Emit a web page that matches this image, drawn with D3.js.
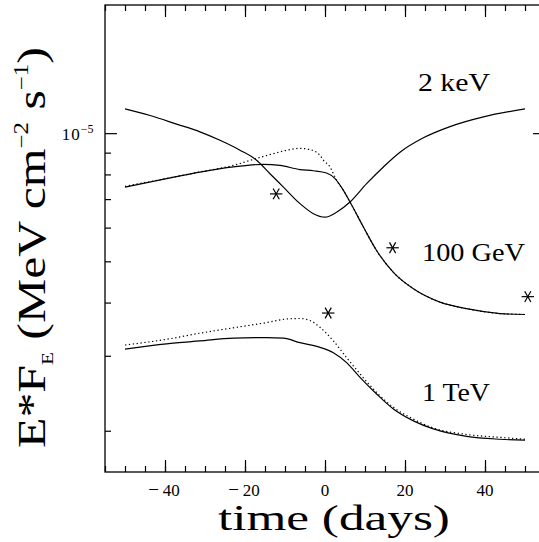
<!DOCTYPE html>
<html>
<head>
<meta charset="utf-8">
<script src="https://cdn.jsdelivr.net/npm/d3@7/dist/d3.min.js"></script>
<style>
  body { margin: 0; background: #fff; }
  svg { display: block; }
  text { font-family: "Liberation Serif", "Times New Roman", serif; font-weight: normal; fill: #000; }
</style>
</head>
<body>
<div id="chart"></div>
<script>
// light curves, time in days, E*F_E in MeV cm^-2 s^-1
var keVDays = [-50, -43.75, -37.1, -31.25, -26.25, -21.25, -17.1, -13.75, -10.4, -6.25, -2.9, 0,
               2.9, 6.25, 10.4, 14.6, 18.75, 24.6, 31.25, 39.6, 50];
var keVFlux = [11.4e-6, 11.0e-6, 10.5e-6, 10.07e-6, 9.62e-6, 9.12e-6, 8.64e-6, 8.03e-6, 7.47e-6, 6.83e-6, 6.47e-6, 6.35e-6,
               6.52e-6, 6.89e-6, 7.61e-6, 8.33e-6, 9.02e-6, 9.75e-6, 10.36e-6, 10.92e-6, 11.4e-6];

var gevDays = [-50, -39.6, -31.25, -22.9, -15.4, -11.25, -6.25, -2.9, 0.4, 2.5, 4.6, 6.7, 9.6, 12.9, 17.1, 22.1,
               28.75, 35.4, 43.75, 50];
var gevFlux = [7.47e-6, 7.82e-6, 8.10e-6, 8.33e-6, 8.45e-6, 8.40e-6, 8.21e-6, 8.16e-6, 8.06e-6, 7.82e-6,
               7.34e-6, 6.77e-6, 6.02e-6, 5.30e-6, 4.71e-6, 4.31e-6, 4.01e-6, 3.87e-6, 3.77e-6, 3.75e-6];

var gevDotDays = [-50, -39.6, -31.25, -22.9, -17.9, -12.9, -9.6, -6.25, -3.75, -1.25, -0.4, 1.25, 2.1, 2.9, 4.6,
                  6.7, 9.6, 12.9, 17.1, 22.1, 28.75, 35.4, 43.75, 50];
var gevDotFlux = [7.5e-6, 7.83e-6, 8.11e-6, 8.40e-6, 8.68e-6, 8.95e-6, 9.12e-6, 9.21e-6, 9.15e-6, 8.87e-6, 8.64e-6,
                  8.33e-6, 8.03e-6, 7.75e-6, 7.34e-6, 6.77e-6, 6.02e-6, 5.30e-6, 4.71e-6, 4.31e-6, 4.01e-6,
                  3.87e-6, 3.77e-6, 3.75e-6];

var tevDays = [-50, -39.6, -31.25, -22.9, -14.6, -10.4, -6.25, -1.25, 2.1, 5.4, 8.75, 12.9, 17.1, 22.1, 27.1,
               35.4, 43.75, 50];
var tevFlux = [3.11e-6, 3.20e-6, 3.25e-6, 3.30e-6, 3.31e-6, 3.30e-6, 3.22e-6, 3.14e-6, 3.05e-6, 2.89e-6,
               2.67e-6, 2.44e-6, 2.25e-6, 2.11e-6, 2.02e-6, 1.94e-6, 1.91e-6, 1.90e-6];

var tevDotDays = [-50, -39.6, -31.25, -22.9, -14.6, -9.6, -6.25, -3.75, -1.25, 2.1, 5.4, 8.75, 12.9, 17.1, 22.1,
                  27.1, 35.4, 43.75, 50];
var tevDotFlux = [3.18e-6, 3.28e-6, 3.39e-6, 3.49e-6, 3.59e-6, 3.66e-6, 3.67e-6, 3.63e-6, 3.50e-6, 3.25e-6,
                  2.97e-6, 2.72e-6, 2.46e-6, 2.27e-6, 2.13e-6, 2.03e-6, 1.96e-6, 1.93e-6, 1.91e-6];

// observed points (asterisks)
var obsDays = [-12.2, 16.9, 50.7, 0.8];
var obsFlux = [7.2e-6, 5.38e-6, 4.13e-6, 3.78e-6];

var bandNames = ["2 keV", "100 GeV", "1 TeV"];
var majorDays = [-40, -20, 0, 20, 40];
var minorDays = d3.range(-55, 56, 5);
var minorFlux = [2e-6, 3e-6, 4e-6, 5e-6, 6e-6, 7e-6, 8e-6, 9e-6];

var W = 539, H = 542;
var plotL = 105, plotR = 545, plotT = 5, plotB = 472;

var svg = d3.select("#chart").append("svg")
    .attr("width", W)
    .attr("height", H);

var x = d3.scaleLinear().domain([-55, 55]).range([plotL, plotR]);
var y = d3.scaleLog().domain([1.6e-6, 2e-5]).range([plotB, plotT]);

// ticks, all pointing inwards
function ticks(axis, tx, ty, vals, len) {
    var g = svg.append("g")
        .attr("transform", "translate(" + tx + "," + ty + ")")
        .call(axis.tickValues(vals).tickSize(-len).tickSizeOuter(0).tickFormat(""));
    g.select(".domain").remove();
    g.selectAll("line").attr("stroke", "#000").attr("stroke-width", 1.2);
    return g;
}
ticks(d3.axisBottom(x), 0, plotB, minorDays, 6);
ticks(d3.axisBottom(x), 0, plotB, majorDays, 12);
ticks(d3.axisTop(x), 0, plotT, minorDays, 6);
ticks(d3.axisTop(x), 0, plotT, majorDays, 12);
ticks(d3.axisLeft(y), plotL, 0, minorFlux, 6);
ticks(d3.axisLeft(y), plotL, 0, [1e-5], 12);
ticks(d3.axisRight(y), plotR, 0, minorFlux, 6);
ticks(d3.axisRight(y), plotR, 0, [1e-5], 12);

svg.append("rect")
    .attr("x", plotL).attr("y", plotT)
    .attr("width", plotR - plotL).attr("height", plotB - plotT)
    .attr("fill", "none").attr("stroke", "#000").attr("stroke-width", 1.3);

// tick labels
var xt = svg.append("g").selectAll("text")
    .data(majorDays)
    .enter().append("text")
    .attr("x", d => x(d) + (d < 0 ? -1 : 0))
    .attr("y", 496)
    .attr("text-anchor", "middle")
    .style("font-size", "17px");
xt.filter(d => d < 0).append("tspan").attr("font-size", "19px").text("\u2212");
xt.append("tspan").attr("dx", d => d < 0 ? 4 : 0).text(d => Math.abs(d));

var yt = svg.append("text")
    .attr("x", 93.5).attr("y", y(1e-5) + 6.5)
    .attr("text-anchor", "end")
    .style("font-size", "17px");
yt.append("tspan").attr("letter-spacing", 1).text("10");
yt.append("tspan").attr("dy", -7).style("font-size", "12px").text("\u22125");

// curves
var line = d3.line()
    .x(d => x(d[0]))
    .y(d => y(d[1]))
    .curve(d3.curveMonotoneX);

var curves = [
    {days: keVDays, flux: keVFlux, dash: null},
    {days: gevDotDays, flux: gevDotFlux, dash: "1.3,2.6"},
    {days: gevDays, flux: gevFlux, dash: null},
    {days: tevDotDays, flux: tevDotFlux, dash: "1.3,2.6"},
    {days: tevDays, flux: tevFlux, dash: null}
];

svg.append("g").selectAll("path")
    .data(curves)
    .enter().append("path")
    .attr("d", c => line(d3.zip(c.days, c.flux)))
    .attr("fill", "none")
    .attr("stroke", "#000")
    .attr("stroke-width", 1.2)
    .attr("stroke-dasharray", c => c.dash);

// asterisks: horizontal bar plus two diagonals
var star = svg.append("g").selectAll("g")
    .data(d3.zip(obsDays, obsFlux))
    .enter().append("g")
    .attr("transform", d => "translate(" + x(d[0]) + "," + y(d[1]) + ")");
[0, 60, 120].forEach(function (a) {
    var r = 6.2, c = Math.cos(a * Math.PI / 180) * r, s = Math.sin(a * Math.PI / 180) * r;
    star.append("line")
        .attr("x1", -c).attr("y1", -s).attr("x2", c).attr("y2", s)
        .attr("stroke", "#000").attr("stroke-width", 1.2);
});

// stretch a text group to the width the original uses
function fit(g, width) {
    var bb = g.select("text").node().getBBox();
    return width / bb.width;
}

function label(str, x0, base, size, width) {
    var g = svg.append("g");
    g.append("text").style("font-size", size + "px").text(str);
    var s = fit(g, width);
    g.attr("transform", "translate(" + x0 + "," + base + ") scale(" + s + ",1)");
}

label(bandNames[0], 418, 91, 25, 72);
label(bandNames[1], 422, 261, 25, 103);
label(bandNames[2], 422, 401, 25, 68);

label("time (days)", 218, 530, 36, 232);

// y title, rotated
var yg = svg.append("g");
var yl = yg.append("text").style("font-size", "40px");
yl.append("tspan").text("E*F");
yl.append("tspan").attr("dy", 8).style("font-size", "17px").text("E");
yl.append("tspan").attr("dy", -8).text(" (MeV cm");
yl.append("tspan").attr("dy", -17).style("font-size", "20px").text("\u22122");
yl.append("tspan").attr("dy", 17).text(" s");
yl.append("tspan").attr("dy", -17).style("font-size", "20px").text("\u22121");
yl.append("tspan").attr("dy", 17).text(")");
var sy = fit(yg, 401);
yg.attr("transform", "translate(45,448) rotate(-90) scale(" + sy + ",1)");
</script>
</body>
</html>
